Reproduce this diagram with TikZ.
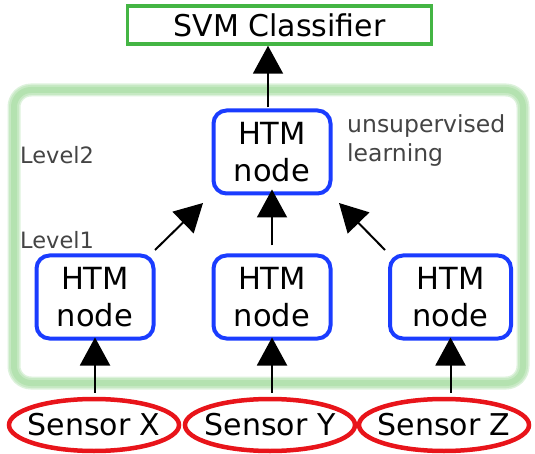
\documentclass[tikz,border=0pt]{standalone}
\usepackage{fontspec}
\setmainfont{DejaVu Sans}
\usetikzlibrary{arrows.meta,shapes.geometric}
\definecolor{htmblue}{HTML}{1A3CFF}
\definecolor{svmgreen}{HTML}{44B544}
\definecolor{boxgreen}{HTML}{B4E2B0}
\definecolor{sensred}{HTML}{E8141A}
\definecolor{labgray}{HTML}{444444}
\tikzset{
  x=1pt,y=-1pt,
  htm/.style={draw=htmblue,line width=4pt,rounded corners=13pt,minimum width=117pt,minimum height=83pt,align=center,font=\fontsize{30.5}{37}\selectfont,inner sep=0pt},
  sensor/.style={draw=sensred,line width=4.5pt,ellipse,minimum width=170pt,minimum height=52pt,inner xsep=-12pt,inner ysep=0pt,font=\fontsize{30}{36}\selectfont},
  lab/.style={text=labgray,inner sep=0pt},
  arr/.style={line width=2pt,-{Triangle[width=30pt,length=28pt]}},
}
\begin{document}
\begin{tikzpicture}
\useasboundingbox (0,0) rectangle (535,454);
% background container (soft edge)
\draw[boxgreen!45,line width=13pt,rounded corners=17pt] (14,90) rectangle (523,383);
\draw[boxgreen!75,line width=10pt,rounded corners=17pt] (14,90) rectangle (523,383);
\draw[boxgreen,line width=6pt,rounded corners=17pt] (14,90) rectangle (523,383);
\node[draw=svmgreen,line width=3.5pt,minimum width=304pt,minimum height=38pt,inner sep=0pt,font=\fontsize{30}{36}\selectfont] (svm) at (279.5,25) {SVM Classifier};
\node[htm] (top) at (272,152) {HTM\\node};
\node[htm] (l) at (95,297) {HTM\\node};
\node[htm] (m) at (272,297) {HTM\\node};
\node[htm,minimum width=121pt] (r) at (450.5,297) {HTM\\node};
\node[sensor] (sx) at (94,425) {Sensor X};
\node[sensor] (sy) at (270,425) {Sensor Y};
\node[sensor] (sz) at (444,425) {Sensor Z};
\node[lab,anchor=west,font=\fontsize{22.5}{28}\selectfont] (l2) at (20,155) {Level2};
\node[lab,anchor=west,font=\fontsize{22.5}{28}\selectfont] (l1) at (20,240) {Level1};
\node[lab,anchor=north west,align=left,font=\fontsize{23.5}{29}\selectfont] (un) at (347,114) {unsupervised\\learning};
\coordinate (lt) at (155,250);
\coordinate (rt) at (385,250);
\coordinate (lh) at (203,203);
\coordinate (rh) at (339,203);
\draw[arr] (top.north -| 268,0) ++(0,-1) -- (svm.south -| 268,0);
\draw[arr] (lt) -- (lh);
\draw[arr] (m.north) ++(0,-8) -- ([yshift=6pt]top.south);
\draw[arr] (rt) -- (rh);
\draw[arr] (sx.north -| l.south) ++(0,-4) -- ([yshift=3pt]l.south);
\draw[arr] (sy.north -| m.south) ++(0,-4) -- ([yshift=3pt]m.south);
\draw[arr] (sz.north -| r.south) ++(0,-4) -- ([yshift=3pt]r.south);
\end{tikzpicture}
\end{document}
